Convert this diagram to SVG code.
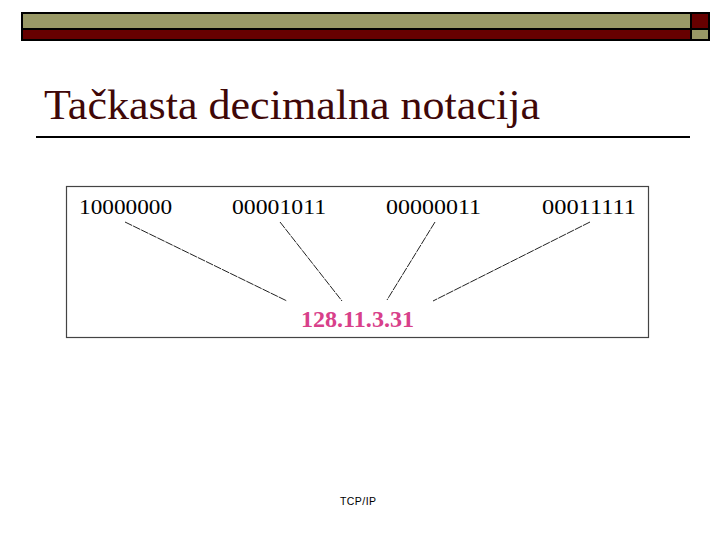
<svg xmlns="http://www.w3.org/2000/svg" width="720" height="540" viewBox="0 0 720 540">
<style>
.bin{font-family:"Liberation Serif","Times New Roman",serif;font-size:22px;fill:#000}
.conn line{stroke:#222;stroke-width:1;stroke-dasharray:8 1}
</style>
<rect width="720" height="540" fill="#fff"/>
<g id="header">
<rect x="22" y="13" width="669" height="16" fill="#999966" stroke="#000" stroke-width="2"/>
<rect x="22" y="29" width="669" height="11" fill="#660000" stroke="#000" stroke-width="2"/>
<rect x="691" y="13" width="18" height="16" fill="#660000" stroke="#000" stroke-width="2"/>
<rect x="691" y="29" width="18" height="11" fill="#999966" stroke="#000" stroke-width="2"/>
</g>
<g id="title">
<text x="44" y="119" font-family="Liberation Serif, Times New Roman, serif" font-size="42" fill="#3f0808" textLength="496" lengthAdjust="spacingAndGlyphs">Tačkasta decimalna notacija</text>
<line x1="36" y1="137" x2="690" y2="137" stroke="#000" stroke-width="2"/>
</g>
<g id="frame"><rect x="66.5" y="186.5" width="582" height="151" fill="none" stroke="#444" stroke-width="1.2"/></g>
<g id="b1"><text class="bin" x="79" y="214" textLength="93" lengthAdjust="spacingAndGlyphs">10000000</text></g>
<g id="b2"><text class="bin" x="232" y="214" textLength="94" lengthAdjust="spacingAndGlyphs">00001011</text></g>
<g id="b3"><text class="bin" x="386" y="214" textLength="95" lengthAdjust="spacingAndGlyphs">00000011</text></g>
<g id="b4"><text class="bin" x="542" y="214" textLength="94" lengthAdjust="spacingAndGlyphs">00011111</text></g>
<g id="conns" class="conn">
<line x1="125" y1="222" x2="287" y2="301"/>
<line x1="280" y1="222" x2="342" y2="301"/>
<line x1="435" y1="222" x2="387" y2="300"/>
<line x1="590" y1="222" x2="433" y2="301"/>
</g>
<g id="result"><text x="301" y="327" font-family="Liberation Serif, Times New Roman, serif" font-size="23" font-weight="bold" fill="#d8408a" textLength="113" lengthAdjust="spacingAndGlyphs">128.11.3.31</text></g>
<g id="footer"><text x="340" y="505" font-family="Liberation Sans, Arial, sans-serif" font-size="10.5" fill="#000" textLength="36">TCP/IP</text></g>
</svg>
